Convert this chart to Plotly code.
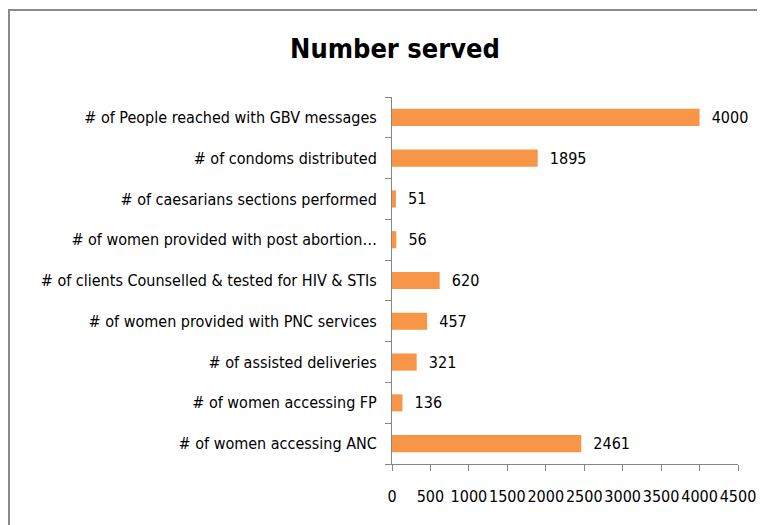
import plotly.graph_objects as go

categories = [
    "# of women accessing ANC",
    "# of women accessing FP",
    "# of assisted deliveries",
    "# of women provided with PNC services",
    "# of clients Counselled & tested for HIV & STIs",
    "# of women provided with post abortion…",
    "# of caesarians sections performed",
    "# of condoms distributed",
    "# of People reached with GBV messages",
]
values = [2461, 136, 321, 457, 620, 56, 51, 1895, 4000]
x_ticks = [0, 500, 1000, 1500, 2000, 2500, 3000, 3500, 4000, 4500]

FONT = "Liberation Sans Narrow, DejaVu Sans Condensed, Arial Narrow, sans-serif"
# page has an 8px body margin; figure sized to fit the 765x525 window
W, H = 757, 517
L, R, T, B = 384, 27, 89, 61
pw, ph = W - L - R, H - T - B

fig = go.Figure(go.Bar(
    x=values, y=categories, orientation="h",
    marker=dict(color="#F79646", line=dict(width=0)),
    width=0.42,
    text=values, texttemplate="\u00a0\u00a0%{x}", textposition="outside",
    textfont=dict(family=FONT, size=16, color="#000000"),
    constraintext="none",
    cliponaxis=False,
))

fig.update_layout(
    width=W, height=H,
    margin=dict(l=L, r=R, t=T, b=B, pad=0),
    paper_bgcolor="white", plot_bgcolor="white",
    showlegend=False,
    title=dict(text="<b>Number served</b>", x=387 / W, xanchor="center",
               y=1 - 41 / H, yanchor="middle", yref="container",
               font=dict(family=FONT, size=27, color="#000000")),
    xaxis=dict(range=[0, 4500], tickvals=x_ticks, ticktext=[str(t) for t in x_ticks],
               showgrid=False, zeroline=False, showline=True, linecolor="#868686", linewidth=1,
               ticks="outside", ticklen=6, tickcolor="#868686", tickangle=0, automargin=False,
               tickfont=dict(family=FONT, size=16, color="#000000"), ticklabelstandoff=12),
    yaxis=dict(type="category", showgrid=False, zeroline=False, showline=True,
               linecolor="#868686", linewidth=1, automargin=False,
               ticks="outside", ticklen=6, tickcolor="#868686", tickson="boundaries",
               tickfont=dict(family=FONT, size=16, color="#000000"), ticklabelstandoff=11),
    shapes=[dict(type="rect", xref="paper", yref="paper",
                 x0=(1 - L) / pw, x1=(W + 20 - L) / pw,
                 y0=-0.5, y1=(H - B - 2) / ph,
                 line=dict(color="#8a8a8a", width=2), fillcolor="rgba(0,0,0,0)", layer="below")],
)

fig.write_html("out.html")
